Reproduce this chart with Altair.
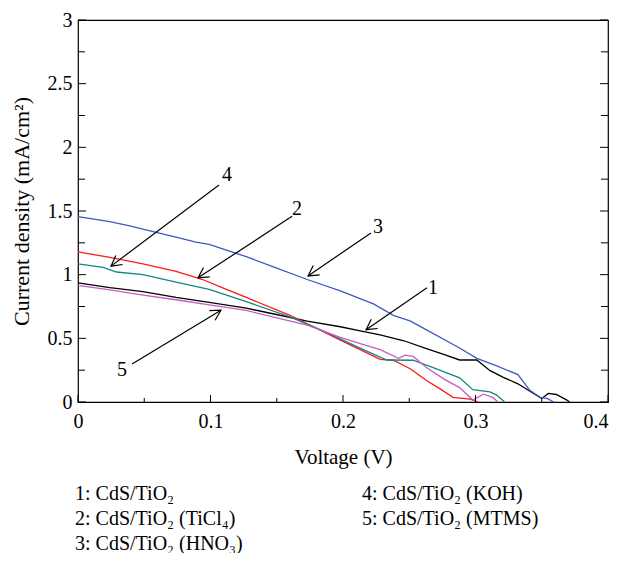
import math
import altair as alt
import pandas as pd

# ---------------- data ----------------
v1 = [0, 0.024, 0.049, 0.074, 0.099, 0.127, 0.147, 0.173, 0.198, 0.213, 0.228, 0.246, 0.263, 0.276, 0.288, 0.301, 0.311, 0.321, 0.332, 0.342, 0.350, 0.355, 0.361, 0.369, 0.371]
j1 = [0.936, 0.898, 0.867, 0.821, 0.783, 0.737, 0.693, 0.635, 0.591, 0.558, 0.527, 0.481, 0.420, 0.374, 0.330, 0.330, 0.246, 0.194, 0.143, 0.079, 0.028, 0.067, 0.059, 0.015, 0.0]

v2 = [0, 0.024, 0.049, 0.074, 0.094, 0.112, 0.127, 0.160, 0.185, 0.205, 0.218, 0.228, 0.238, 0.251, 0.263, 0.273, 0.283, 0.296, 0.302]
j2 = [1.179, 1.136, 1.085, 1.026, 0.962, 0.885, 0.821, 0.681, 0.553, 0.450, 0.386, 0.335, 0.328, 0.259, 0.169, 0.105, 0.036, 0.023, 0.0]

v3 = [0, 0.024, 0.039, 0.059, 0.074, 0.089, 0.099, 0.112, 0.127, 0.147, 0.173, 0.198, 0.223, 0.238, 0.251, 0.263, 0.288, 0.301, 0.316, 0.332, 0.341, 0.349, 0.354, 0.359]
j3 = [1.456, 1.417, 1.384, 1.333, 1.295, 1.256, 1.238, 1.192, 1.141, 1.064, 0.962, 0.872, 0.770, 0.681, 0.635, 0.566, 0.424, 0.343, 0.284, 0.215, 0.092, 0.036, 0.028, 0.0]

v4 = [0, 0.019, 0.029, 0.049, 0.074, 0.099, 0.127, 0.160, 0.185, 0.210, 0.233, 0.253, 0.271, 0.288, 0.298, 0.311, 0.316, 0.322]
j4 = [1.085, 1.057, 1.021, 1.0, 0.941, 0.885, 0.788, 0.668, 0.558, 0.437, 0.330, 0.328, 0.259, 0.190, 0.097, 0.079, 0.054, 0.0]

v5 = [0, 0.024, 0.049, 0.074, 0.099, 0.127, 0.147, 0.173, 0.198, 0.213, 0.228, 0.242, 0.247, 0.253, 0.263, 0.276, 0.288, 0.298, 0.306, 0.313, 0.317]
j5 = [0.916, 0.880, 0.839, 0.803, 0.762, 0.719, 0.668, 0.604, 0.507, 0.458, 0.412, 0.343, 0.368, 0.358, 0.271, 0.182, 0.113, 0.015, 0.061, 0.036, 0.0]

curve_ids = ["1", "2", "3", "4", "5"]
curve_colors = ["#000000", "#ff1a1a", "#3a5bc0", "#13877f", "#c65cc6"]

# arrow annotations: label, tail (V, J), head (V, J), label position (V, J)
ann_labels = ["4", "2", "3", "1", "5"]
tail_v = [0.1064, 0.1615, 0.2211, 0.2634, 0.0408]
tail_j = [1.704, 1.458, 1.328, 0.898, 0.299]
head_v = [0.0249, 0.0906, 0.1736, 0.2174, 0.1079]
head_j = [1.067, 0.975, 0.990, 0.568, 0.721]
lab_v = [0.1125, 0.1653, 0.2264, 0.2680, 0.0332]
lab_j = [1.780, 1.512, 1.374, 0.898, 0.253]

x_major = [0, 0.1, 0.2, 0.3, 0.4]
x_minor = [0.05, 0.15, 0.25, 0.35]
y_major = [0, 0.5, 1, 1.5, 2, 2.5, 3]
y_minor = [0.25, 0.75, 1.25, 1.75, 2.25, 2.75]

legend_left = ["1: CdS/TiO₂", "2: CdS/TiO₂ (TiCl₄)", "3: CdS/TiO₂ (HNO₃)"]
legend_right = ["4: CdS/TiO₂ (KOH)", "5: CdS/TiO₂ (MTMS)"]

# ---------------- layout ----------------
W, H = 530, 382
FONT = "Liberation Serif"
XMAX, YMAX = 0.4, 3.0

xs = alt.Scale(domain=[0, XMAX], nice=False, zero=False)
ys = alt.Scale(domain=[0, YMAX], nice=False, zero=False)

rows = []
for cid, vv, jj in zip(curve_ids, [v1, v2, v3, v4, v5], [j1, j2, j3, j4, j5]):
    for i, (a, b) in enumerate(zip(vv, jj)):
        rows.append({"curve": cid, "V": a, "J": b, "i": i})
df = pd.DataFrame(rows)

lines = alt.Chart(df).mark_line(strokeWidth=1.3, clip=False).encode(
    x=alt.X("V:Q", scale=xs,
            axis=alt.Axis(values=x_major, format=".1~f", title="Voltage (V)",
                          labelPadding=9, titlePadding=15, labelFlush=False,
                          titleFontSize=21,
                          labelAlign=alt.condition("datum.value >= 0.39",
                                                   alt.value("right"), alt.value("center")))),
    y=alt.Y("J:Q", scale=ys,
            axis=alt.Axis(values=y_major, format=".1~f", title="Current density (mA/cm²)",
                          labelPadding=6, titlePadding=14, labelFlush=False,
                          titleFontSize=22)),
    color=alt.Color("curve:N", scale=alt.Scale(domain=curve_ids, range=curve_colors), legend=None),
    order="i:Q",
)

# inward ticks
def xticks(vals, length):
    d = pd.DataFrame({"t": vals})
    return alt.Chart(d).mark_rule(color="black", strokeWidth=1).encode(
        x=alt.X("t:Q", scale=xs), y=alt.value(H), y2=alt.value(H - length))

def yticks(vals, length, right=False):
    d = pd.DataFrame({"t": vals})
    x0 = W if right else 0
    x1 = W - length if right else length
    return alt.Chart(d).mark_rule(color="black", strokeWidth=1).encode(
        y=alt.Y("t:Q", scale=ys), x=alt.value(x0), x2=alt.value(x1))

ticks = [xticks(x_major, 7), xticks(x_minor, 4),
         yticks(y_major, 8), yticks(y_minor, 7),
         yticks(y_major, 8, True), yticks(y_minor, 7, True)]

# arrows
kx, ky = W / XMAX, H / YMAX
angles = []
for tv, tj, hv, hj in zip(tail_v, tail_j, head_v, head_j):
    dx = (hv - tv) * kx
    dy = -(hj - tj) * ky
    angles.append(math.degrees(math.atan2(dy, dx)) % 360)

adf = pd.DataFrame({"lab": ann_labels, "tv": tail_v, "tj": tail_j, "hv": head_v, "hj": head_j,
                    "lv": lab_v, "lj": lab_j, "ang": angles})

arrow_lines = alt.Chart(adf).mark_rule(color="black", strokeWidth=1.2).encode(
    x=alt.X("tv:Q", scale=xs), y=alt.Y("tj:Q", scale=ys), x2="hv:Q", y2="hj:Q")

arrow_heads = alt.Chart(adf).mark_point(
    shape="M -1 -0.55 L 0 0 L -1 0.55", filled=False, color="black",
    strokeWidth=1.2, size=420, opacity=1).encode(
    x=alt.X("hv:Q", scale=xs), y=alt.Y("hj:Q", scale=ys),
    angle=alt.Angle("ang:Q", scale=None))

arrow_text = alt.Chart(adf).mark_text(font=FONT, fontSize=20, color="black",
                                      align="center", baseline="middle").encode(
    x=alt.X("lv:Q", scale=xs), y=alt.Y("lj:Q", scale=ys), text="lab:N")

# legend text below the plot
legend_layers = []
for k, t in enumerate(legend_left):
    legend_layers.append(
        alt.Chart(pd.DataFrame({"t": [t]})).mark_text(
            font=FONT, fontSize=20, align="left", baseline="middle", color="black").encode(
            x=alt.value(-3), y=alt.value(474 + 25 * k), text="t:N"))
for k, t in enumerate(legend_right):
    legend_layers.append(
        alt.Chart(pd.DataFrame({"t": [t]})).mark_text(
            font=FONT, fontSize=20, align="left", baseline="middle", color="black").encode(
            x=alt.value(284), y=alt.value(474 + 25 * k), text="t:N"))

chart = alt.layer(lines, *ticks, arrow_lines, arrow_heads, arrow_text, *legend_layers).properties(
    width=W, height=H,
    background="white",
    autosize=alt.AutoSizeParams(type="none"),
    padding={"left": 70, "top": 12, "right": 3, "bottom": 151},
).configure_view(stroke="black", strokeWidth=1.2).configure_axis(
    domain=False, ticks=False, grid=False,
    labelFont=FONT, labelFontSize=20, labelColor="black",
    titleFont=FONT, titleFontSize=20, titleFontWeight="normal", titleColor="black",
)

chart.save("out.html", embed_options={"renderer": "svg", "actions": False})
